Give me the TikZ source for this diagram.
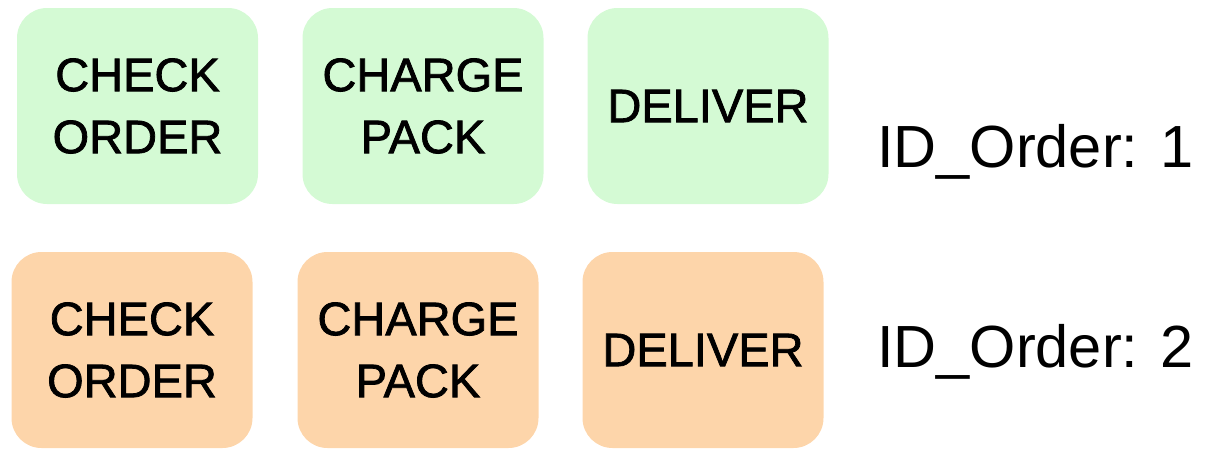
\documentclass[tikz,border=0pt]{standalone}
\usepackage{fontspec}
\setmainfont{Liberation Sans}
\newfontfamily\taskfont[AutoFakeBold=1.6]{Liberation Sans}

\begin{document}
\begin{tikzpicture}[x=1pt,y=-1pt,
    task/.style={rounded corners=30pt, minimum width=241pt, minimum height=196pt,
        inner sep=0pt, align=center, font=\taskfont\bfseries\fontsize{47}{62}\selectfont},
    orderid/.style={anchor=base west, inner sep=0pt, font=\fontsize{59.5}{70}\selectfont}]
    \definecolor{mygreen}{RGB}{212,250,212}
    \definecolor{myorange}{RGB}{253,213,170}

    \useasboundingbox (0,0) rectangle (1215,448);

    % first order
    \node[task, fill=mygreen] (check1) at (137.5,106) {CHECK\\ORDER};
    \node[task, fill=mygreen] (charge1) at (423,106) {CHARGE\\PACK};
    \node[task, fill=mygreen] (deliver1) at (708,106) {DELIVER};
    \node[orderid] (id1) at (877,167) {ID\_Order: 1};

    % second order
    \node[task, fill=myorange] (check2) at (132,350) {CHECK\\ORDER};
    \node[task, fill=myorange] (charge2) at (418,350) {CHARGE\\PACK};
    \node[task, fill=myorange] (deliver2) at (703,350) {DELIVER};
    \node[orderid] (id2) at (877,367) {ID\_Order: 2};
\end{tikzpicture}
\end{document}
